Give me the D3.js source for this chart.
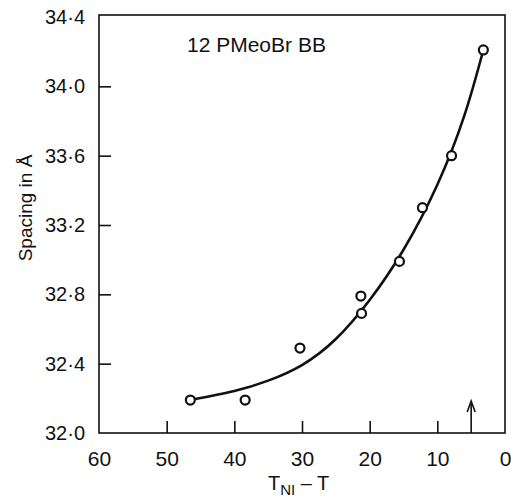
<!DOCTYPE html>
<html>
<head>
<meta charset="utf-8">
<script src="https://cdn.jsdelivr.net/npm/d3@7"></script>
<style>
  body { margin: 0; background: #fff; }
  svg { display: block; }
  text { font-family: "Liberation Sans", Arial, sans-serif; fill: #111; }
</style>
</head>
<body>
<svg width="511" height="500"></svg>
<script>
// measured points (T_NI - T, spacing in Å)
const tempDiff = [46.5, 38.4, 30.3, 21.3, 21.2, 15.6, 12.2, 7.9, 3.2];
const spacing = [32.19, 32.19, 32.49, 32.79, 32.69, 32.99, 33.30, 33.60, 34.21];

// fitted curve
const curveX = [46.5, 40, 35, 30, 25, 20, 15, 10, 6, 3.2];
const curveY = [32.19, 32.242, 32.302, 32.392, 32.542, 32.767, 33.057, 33.432, 33.832, 34.21];

const xTicks = [60, 50, 40, 30, 20, 10, 0];
const yTicks = [32.0, 32.4, 32.8, 33.2, 33.6, 34.0, 34.4];
const arrowAt = 5;

const svg = d3.select("svg");

const x = d3.scaleLinear().domain([60, 0]).range([99, 505]);
const y = d3.scaleLinear().domain([32.0, 34.4]).range([433, 17]);

const fmt = (d) => d.toFixed(1).replace(".", "\u00B7");

// frame
svg.append("rect")
  .attr("x", x(60))
  .attr("y", 15)
  .attr("width", x(0) - x(60))
  .attr("height", y(32.0) - 15)
  .attr("fill", "none")
  .attr("stroke", "#111")
  .attr("stroke-width", 1.6);

// x axis, ticks pointing inward
const xAxis = svg.append("g")
  .attr("transform", `translate(0,${y(32.0)})`)
  .call(d3.axisBottom(x).tickValues(xTicks).tickSize(-12).tickPadding(18).tickFormat(d3.format("d")));

// y axis, ticks pointing inward
const yAxis = svg.append("g")
  .attr("transform", `translate(${x(60)},0)`)
  .call(d3.axisLeft(y).tickValues(yTicks).tickSize(-12).tickPadding(14).tickFormat(fmt));

[xAxis, yAxis].forEach((g) => {
  g.select(".domain").remove();
  g.selectAll("line").attr("stroke", "#111").attr("stroke-width", 1.6);
  g.selectAll("text").attr("fill", "#111");
});
xAxis.selectAll("text").style("font-size", "21px");
yAxis.selectAll("text").style("font-size", "20px");
// no tick marks at the corners
xAxis.selectAll(".tick").filter((d) => d === 60 || d === 0).select("line").remove();
yAxis.selectAll(".tick").filter((d) => d === 32.0 || d === 34.4).select("line").remove();

// fitted line
const line = d3.line()
  .x((d) => x(d[0]))
  .y((d) => y(d[1]))
  .curve(d3.curveNatural);

svg.append("path")
  .datum(d3.zip(curveX, curveY))
  .attr("d", line)
  .attr("fill", "none")
  .attr("stroke", "#111")
  .attr("stroke-width", 2.6);

// points
svg.selectAll("circle.pt")
  .data(d3.zip(tempDiff, spacing))
  .enter()
  .append("circle")
  .attr("class", "pt")
  .attr("cx", (d) => x(d[0]))
  .attr("cy", (d) => y(d[1]))
  .attr("r", 4.5)
  .attr("fill", "#fff")
  .attr("stroke", "#111")
  .attr("stroke-width", 2.2);

// arrow marking the transition
svg.append("line")
  .attr("x1", x(arrowAt))
  .attr("x2", x(arrowAt))
  .attr("y1", y(32.0))
  .attr("y2", 404)
  .attr("stroke", "#111")
  .attr("stroke-width", 1.6);
svg.append("path")
  .attr("d", `M${x(arrowAt) - 4},${412} L${x(arrowAt)},${401} L${x(arrowAt) + 4},${412}`)
  .attr("fill", "none")
  .attr("stroke", "#111")
  .attr("stroke-width", 1.6);

// label
svg.append("text")
  .attr("x", 187)
  .attr("y", 52)
  .style("font-size", "21px")
  .text("12 PMeoBr BB");

// axis titles
svg.append("text")
  .attr("transform", "translate(32,208) rotate(-90)")
  .attr("text-anchor", "middle")
  .style("font-size", "19px")
  .text("Spacing in \u00C5");

const xt = svg.append("text")
  .attr("x", 268)
  .attr("y", 490)
  .style("font-size", "20px");
xt.append("tspan").text("T");
xt.append("tspan").attr("dy", 5).style("font-size", "15px").text("NI");
xt.append("tspan").attr("dy", -5).text(" \u2013 T");
</script>
</body>
</html>
